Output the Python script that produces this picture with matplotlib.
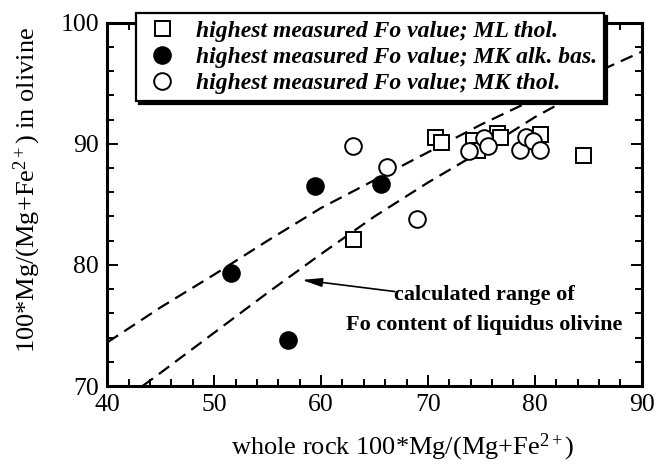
import matplotlib
matplotlib.use('Agg')
import matplotlib.pyplot as plt

# ---- data ----
ml_thol_x = [63.0, 70.65, 71.2, 74.2, 74.55, 76.5, 76.7, 80.5, 84.5]
ml_thol_y = [82.1, 90.6, 90.14, 90.3, 89.5, 90.9, 90.6, 90.8, 89.1]

mk_alk_x = [51.6, 56.9, 59.4, 65.6]
mk_alk_y = [79.3, 73.8, 86.55, 86.7]

mk_thol_x = [63.0, 66.2, 69.0, 73.86, 75.2, 75.6, 78.6, 79.2, 79.8, 80.5]
mk_thol_y = [89.83, 88.07, 83.78, 89.4, 90.5, 89.8, 89.5, 90.6, 90.2, 89.5]

upper_x = [40, 45, 50, 55, 60, 65, 70, 75, 80, 85, 90]
upper_y = [73.6, 76.5, 79.2, 82.0, 84.7, 87.0, 89.3, 91.6, 93.7, 95.6, 97.6]
lower_x = [43.3, 45, 50, 55, 60, 65, 70, 75, 80, 85]
lower_y = [70.0, 71.1, 74.4, 77.7, 80.9, 84.0, 86.8, 89.4, 92.2, 94.6]

legend_labels = ['highest measured Fo value; ML thol.',
                 'highest measured Fo value; MK alk. bas.',
                 'highest measured Fo value; MK thol.']
x_ticks = [40, 50, 60, 70, 80, 90]
y_ticks = [70, 80, 90, 100]

# ---- style ----
plt.rcParams['font.family'] = ['Liberation Serif', 'DejaVu Serif']
plt.rcParams['mathtext.fontset'] = 'custom'
plt.rcParams['mathtext.rm'] = 'Liberation Serif'
plt.rcParams['mathtext.it'] = 'Liberation Serif:italic'
plt.rcParams['mathtext.bf'] = 'Liberation Serif:bold'

W, H = 669, 467
fig = plt.figure(figsize=(W / 100, H / 100), dpi=100)
ax = fig.add_axes([107.3 / W, 1 - 386 / H, (641.7 - 107.3) / W, (386 - 22.7) / H])

ax.set_xlim(40, 90)
ax.set_ylim(70, 100)
ax.set_xticks(x_ticks)
ax.set_yticks(y_ticks)
ax.set_xticks(range(40, 91, 2), minor=True)
ax.set_yticks(range(70, 101, 2), minor=True)
ax.tick_params(which='both', direction='in', top=True, right=True, width=1.4,
               labelsize=18.5, pad=6)
ax.tick_params(which='major', length=8)
ax.tick_params(which='minor', length=5)
for s in ax.spines.values():
    s.set_linewidth(2.2)

dash_kw = dict(color='black', lw=1.6, dashes=(5.8, 3.3), zorder=2)
ax.plot(upper_x, upper_y, **dash_kw)
ax.plot(lower_x, lower_y, **dash_kw)

ms = 12
mew = 1.4
h_sq, = ax.plot(ml_thol_x, ml_thol_y, ls='none', marker='s', ms=ms * 0.9, mfc='white',
                mec='black', mew=mew, zorder=3)
h_oc, = ax.plot(mk_thol_x, mk_thol_y, ls='none', marker='o', ms=ms, mfc='white',
                mec='black', mew=mew, zorder=4)
h_fc, = ax.plot(mk_alk_x, mk_alk_y, ls='none', marker='o', ms=ms, mfc='black',
                mec='black', mew=mew, zorder=4)

leg = ax.legend([h_sq, h_fc, h_oc], legend_labels, loc='upper left',
                bbox_to_anchor=(136 / W, 1 - 13 / H), bbox_transform=fig.transFigure,
                borderaxespad=0, frameon=True, fancybox=False, framealpha=1,
                facecolor='white', edgecolor='black',
                shadow={'color': 'black', 'alpha': 1},
                prop={'family': 'Liberation Serif', 'weight': 'bold', 'style': 'italic',
                      'size': 17},
                handlelength=1.6, handletextpad=0.65, labelspacing=0.2,
                borderpad=0.3, numpoints=1)
leg.get_frame().set_linewidth(1.6)
leg.set_zorder(10)

ax.set_xlabel('whole rock 100*Mg/(Mg+Fe$^{\\mathrm{2+}}$)', fontsize=19)
ax.set_ylabel('100*Mg/(Mg+Fe$^{\\mathrm{2+}}$) in olivine', fontsize=19)
ax.xaxis.set_label_coords(0.552, -0.125)
ax.yaxis.set_label_coords(-0.121, 0.54)

ax.annotate('', xy=(58.2, 78.76), xytext=(66.9, 77.8),
            arrowprops=dict(arrowstyle='-|>,head_length=1.0,head_width=0.22',
                            mutation_scale=12, color='black', lw=1.2,
                            shrinkA=0, shrinkB=0), zorder=5)
ax.text(75.3, 76.3, 'calculated range of\nFo content of liquidus olivine',
        ha='center', va='center', fontsize=16, fontweight='bold', linespacing=1.65,
        zorder=5)

fig.savefig('out.png', dpi=100)
